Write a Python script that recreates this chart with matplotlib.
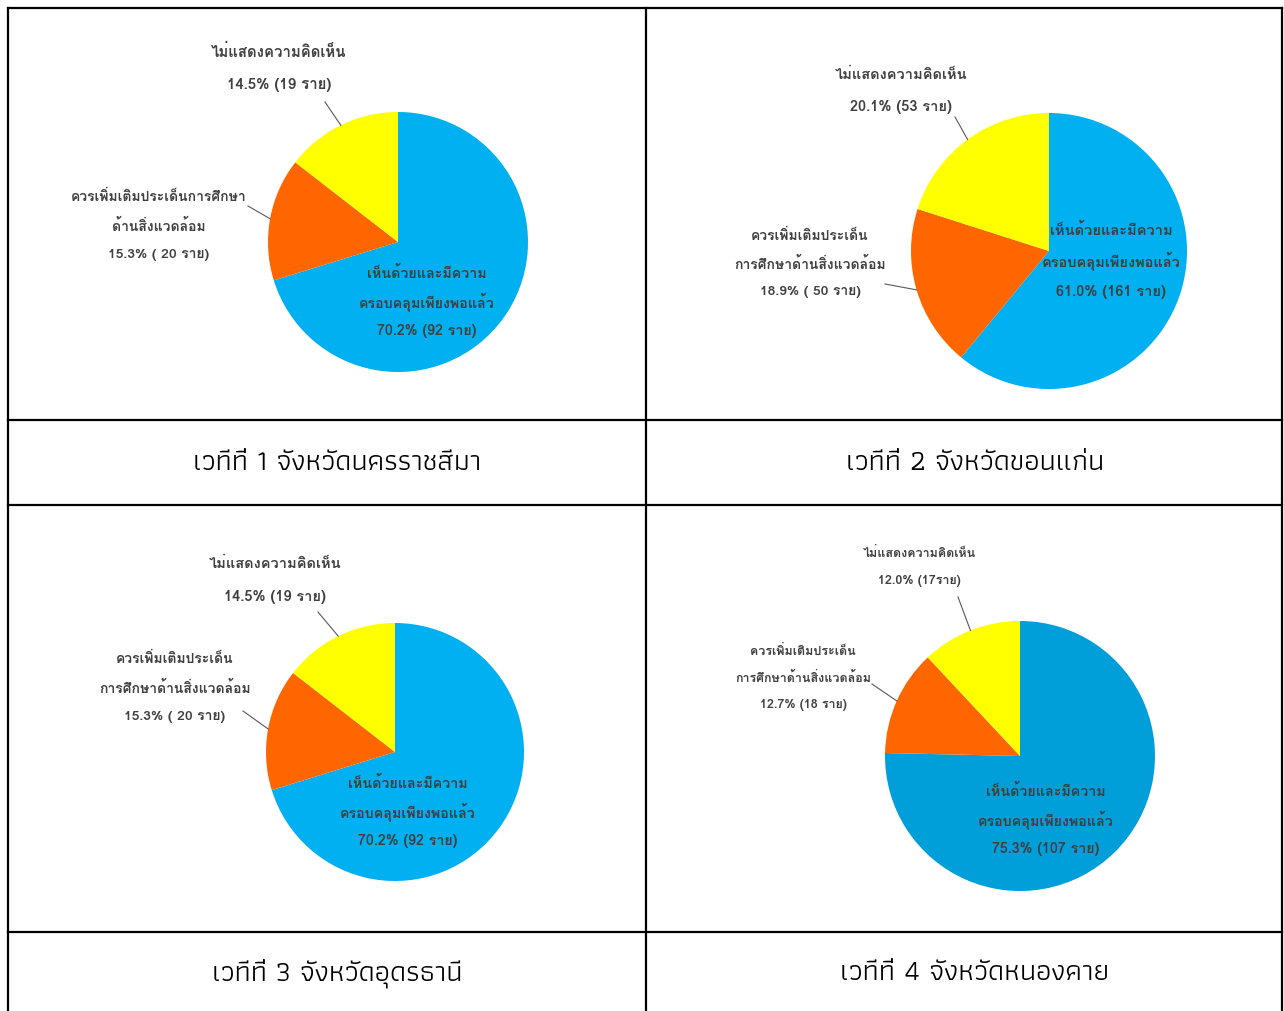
import matplotlib
matplotlib.use("Agg")
import numpy as np
import matplotlib.pyplot as plt
from matplotlib import font_manager
from matplotlib.ft2font import FT2Font

# Chart data (counts of respondents per answer)
venues = ["เวทีที่ 1 จังหวัดนครราชสีมา", "เวทีที่ 2 จังหวัดขอนแก่น",
          "เวทีที่ 3 จังหวัดอุดรธานี", "เวทีที่ 4 จังหวัดหนองคาย"]
answers = ["เห็นด้วยและมีความครอบคลุมเพียงพอแล้ว",
           "ควรเพิ่มเติมประเด็นการศึกษาด้านสิ่งแวดล้อม",
           "ไม่แสดงความคิดเห็น"]
counts_1 = [92, 20, 19]
counts_2 = [161, 50, 53]
counts_3 = [92, 20, 19]
counts_4 = [107, 18, 17]
percent_1 = [70.2, 15.3, 14.5]
percent_2 = [61.0, 18.9, 20.1]
percent_3 = [70.2, 15.3, 14.5]
percent_4 = [75.3, 12.7, 12.0]


def thai_fonts():
    '''Return the names of installed fonts that have Thai glyphs.'''
    names = []
    for f in font_manager.fontManager.ttflist:
        try:
            cmap = FT2Font(f.fname).get_charmap()
        except Exception:
            continue
        if 0x0E01 in cmap and f.name not in names:
            names.append(f.name)
    return names


found = thai_fonts()
LABEL_FONT = [n for n in ["Tahoma", "Loma", "Noto Sans Thai", "Garuda",
                          "Waree", "Umpush", "Sarabun"] if n in found]
LABEL_FONT = (LABEL_FONT[:1] or found[:1]) + ["DejaVu Sans"]
TITLE_FONT = [n for n in ["Cordia New", "Angsana New", "TH Sarabun New",
                          "Athiti", "Laksaman", "Sarabun", "Loma"]
              if n in found]
TITLE_FONT = (TITLE_FONT[:1] or LABEL_FONT[:1]) + ["DejaVu Sans"]

W, H = 1284, 1012
colors_a = ["#00B0F0", "#FF6600", "#FFFF00"]
colors_b = ["#009FD9", "#FF6600", "#FFFF00"]
TEXT = "#404040"


def draw_pie(fig, top, counts, colors, cx, cy, r, texts, leaders, fsize):
    '''Draw one pie in pixel space with its three text blocks.'''
    ax = fig.add_axes([(cx - r) / W, 1 - (cy + r) / H, 2 * r / W, 2 * r / H])
    wedges, _ = ax.pie(counts, colors=colors, startangle=90,
                       counterclock=False, radius=1,
                       wedgeprops={"linewidth": 0})
    ax.set_xlim(-1, 1)
    ax.set_ylim(-1, 1)
    ax.axis("off")

    # Text blocks, one per slice
    for i, (x, y, lines, gap) in enumerate(texts):
        for k, line in enumerate(lines):
            top.text(x, y + k * gap, line, ha="center", va="center",
                     fontsize=fsize[i], color=TEXT, fontweight="bold",
                     family=LABEL_FONT)

    # Leader lines end on the middle of the slice edge
    for i, (lx, ly) in leaders.items():
        w = wedges[i]
        mid = np.radians((w.theta1 + w.theta2) / 2)
        ex = cx + r * np.cos(mid)
        ey = cy - r * np.sin(mid)
        top.plot([lx, ex], [ly, ey], color="#595959", lw=0.8)


def main():
    fig = plt.figure(figsize=(W / 100, H / 100), dpi=100)
    bg = fig.add_axes([0, 0, 1, 1])
    bg.set_xlim(0, W)
    bg.set_ylim(H, 0)
    bg.axis("off")
    bg.set_zorder(10)

    # Table grid
    lw = 1.6
    for y in [9, 421, 506, 933]:
        bg.plot([8, 1282], [y, y], color="black", lw=lw,
                solid_capstyle="projecting")
    for x in [8, 646, 1282]:
        bg.plot([x, x], [9, H + 5], color="black", lw=lw,
                solid_capstyle="projecting")

    # Titles
    for name, (x, y) in zip(venues, [(337, 463), (975, 463),
                                     (337, 973), (975, 973)]):
        bg.text(x, y, name, ha="center", va="center", fontsize=21,
                color="black", family=TITLE_FONT)

    # Panel 1
    draw_pie(fig, bg, counts_1, colors_a, 398, 243, 130, [
        (427, 273, ["เห็นด้วยและมีความ", "ครอบคลุมเพียงพอแล้ว",
                    "%.1f%% (%d ราย)" % (percent_1[0], counts_1[0])], 29),
        (159, 197, ["ควรเพิ่มเติมประเด็นการศึกษา", "ด้านสิ่งแวดล้อม",
                    "%.1f%% ( %d ราย)" % (percent_1[1], counts_1[1])], 29),
        (279, 52, ["ไม่แสดงความคิดเห็น",
                   "%.1f%% (%d ราย)" % (percent_1[2], counts_1[2])], 33),
    ], {1: (248, 207), 2: (325, 103)}, [10.3, 10, 10.8])

    # Panel 2
    draw_pie(fig, bg, counts_2, colors_a, 1049, 252, 138, [
        (1111, 230, ["เห็นด้วยและมีความ", "ครอบคลุมเพียงพอแล้ว",
                     "%.1f%% (%d ราย)" % (percent_2[0], counts_2[0])], 31),
        (810, 236, ["ควรเพิ่มเติมประเด็น", "การศึกษาด้านสิ่งแวดล้อม",
                    "%.1f%% ( %d ราย)" % (percent_2[1], counts_2[1])], 28),
        (901, 75, ["ไม่แสดงความคิดเห็น",
                   "%.1f%% (%d ราย)" % (percent_2[2], counts_2[2])], 32),
    ], {1: (885, 285), 2: (955, 118)}, [10.5, 10, 10.5])

    # Panel 3
    draw_pie(fig, bg, counts_3, colors_a, 395, 753, 129, [
        (408, 783, ["เห็นด้วยและมีความ", "ครอบคลุมเพียงพอแล้ว",
                    "%.1f%% (%d ราย)" % (percent_3[0], counts_3[0])], 29),
        (175, 659, ["ควรเพิ่มเติมประเด็น", "การศึกษาด้านสิ่งแวดล้อม",
                    "%.1f%% ( %d ราย)" % (percent_3[1], counts_3[1])], 29),
        (275, 564, ["ไม่แสดงความคิดเห็น",
                    "%.1f%% (%d ราย)" % (percent_3[2], counts_3[2])], 33),
    ], {1: (243, 712), 2: (318, 613)}, [10.3, 10, 10.5])

    # Panel 4
    draw_pie(fig, bg, counts_4, colors_b, 1020, 757, 135, [
        (1046, 791, ["เห็นด้วยและมีความ", "ครอบคลุมเพียงพอแล้ว",
                     "%.1f%% (%d ราย)" % (percent_4[0], counts_4[0])], 29),
        (803, 651, ["ควรเพิ่มเติมประเด็น", "การศึกษาด้านสิ่งแวดล้อม",
                    "%.1f%% (%d ราย)" % (percent_4[1], counts_4[1])], 27),
        (919, 553, ["ไม่แสดงความคิดเห็น",
                    "%.1f%% (%dราย)" % (percent_4[2], counts_4[2])], 28),
    ], {1: (872, 685), 2: (958, 598)}, [10.3, 9, 9])

    fig.savefig("out.png", dpi=100)


if __name__ == "__main__":
    main()
